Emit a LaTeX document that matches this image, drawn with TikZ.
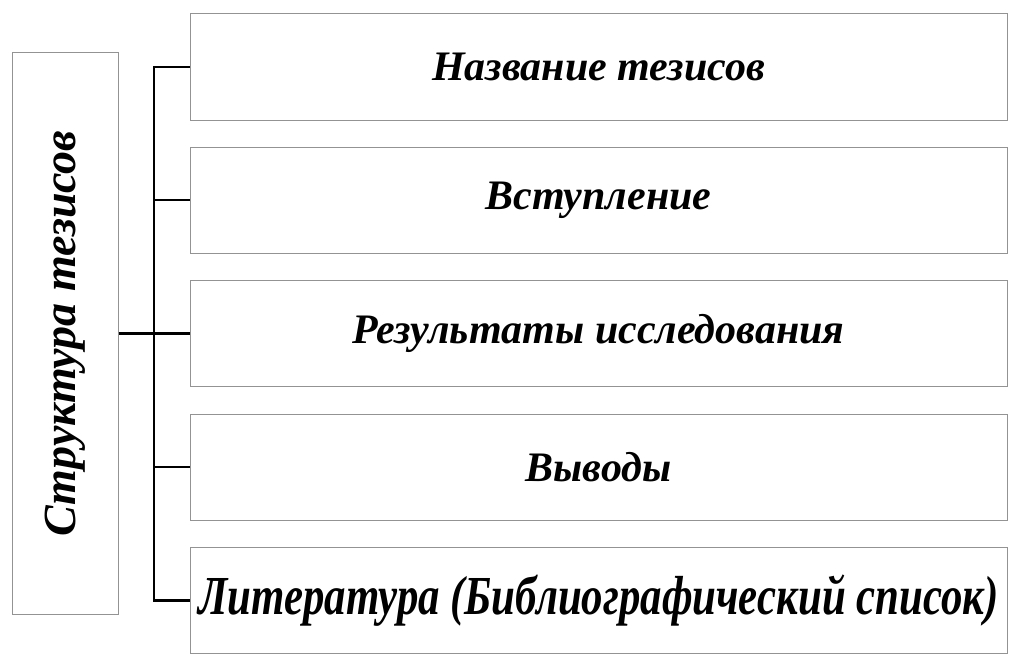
\documentclass[tikz,border=0pt]{standalone}
\usepackage{fontspec}
\setmainfont{Liberation Serif}
\usepackage{graphicx}
\begin{document}
\begin{tikzpicture}[x=1pt, y=-1pt,
        part/.style={draw=gray!85, line width=1pt, minimum width=817pt, minimum height=106pt,
            inner sep=0pt, align=center, font=\fontsize{42}{42}\selectfont\bfseries\itshape},
        link/.style={line width=2.6pt}]
        \useasboundingbox (0, 0) rectangle (1024, 666);
        \node[draw=gray!85, line width=1pt, minimum width=106pt, minimum height=561pt, inner sep=0pt,
            font=\fontsize{46}{46}\selectfont\bfseries\itshape] (structure) at (65, 333.5)
            {\rotatebox{90}{Структура тезисов}};
        \node[part] (title) at (598.5, 67) {Название тезисов};
        \node[part] (intro) at (598.5, 200) {Вступление};
        \node[part] (results) at (598.5, 333.5) {Результаты исследования};
        \node[part] (conclusions) at (598.5, 467) {Выводы};
        \node[part] (references) at (598.5, 600.5)
            {\resizebox{800pt}{\height}{\fontsize{55}{55}\selectfont Литература (Библиографический список)}};
        \coordinate (trunk) at (154, 333.5);
        \draw[link] (structure.east) -- (results.west);
        \draw[link] (title.west) -| (trunk) |- (references.west);
        \foreach \n in {intro, conclusions}
            \draw[link] (\n.west) -- (\n.west -| trunk);
    \end{tikzpicture}
\end{document}
